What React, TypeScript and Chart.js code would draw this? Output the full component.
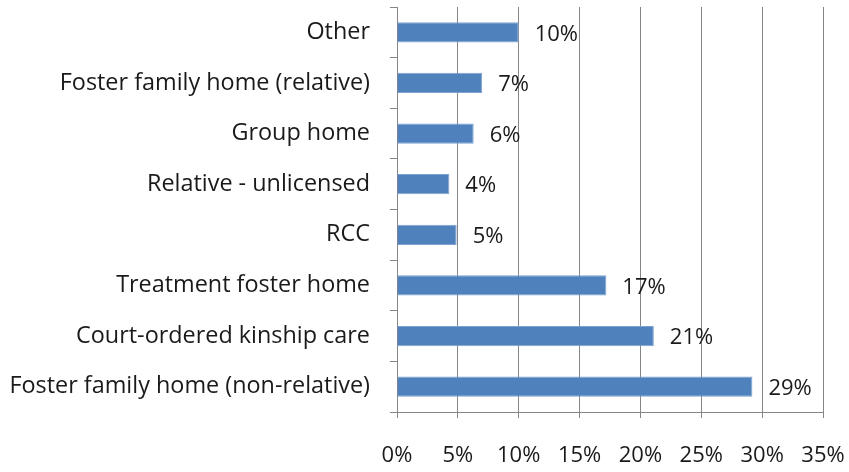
import React, { useEffect, useRef } from "react";
import { Chart, registerables } from "chart.js";

Chart.register(...registerables);

const categories = [
  "Other",
  "Foster family home (relative)",
  "Group home",
  "Relative - unlicensed",
  "RCC",
  "Treatment foster home",
  "Court-ordered kinship care",
  "Foster family home (non-relative)",
];
const shares = [10.0, 7.0, 6.3, 4.3, 4.9, 17.2, 21.1, 29.2];
const valueLabels = ["10%", "7%", "6%", "4%", "5%", "17%", "21%", "29%"];
const xTicks = [0, 5, 10, 15, 20, 25, 30, 35];

const FONT = "'Open Sans', sans-serif";
const SIZE = 22;
const CAT_SIZE = 23.4;

const valueLabelPlugin = {
  id: "valueLabels",
  afterDatasetsDraw(chart: any) {
    const ctx = chart.ctx;
    const meta = chart.getDatasetMeta(0);
    ctx.save();
    ctx.font = `${SIZE}px ${FONT}`;
    ctx.fillStyle = "#1a1a1a";
    ctx.textAlign = "left";
    ctx.textBaseline = "middle";
    meta.data.forEach((bar: any, i: number) => {
      ctx.fillText(valueLabels[i], bar.x + 16, bar.y + 2);
    });
    ctx.restore();
  },
};

export default function App() {
  const ref = useRef<HTMLCanvasElement>(null);
  useEffect(() => {
    const chart = new Chart(ref.current!, {
      type: "bar",
      data: {
        labels: categories,
        datasets: [
          {
            data: shares,
            backgroundColor: "#4F81BD",
            borderColor: "#7da2d1",
            borderWidth: 1,
            barPercentage: 0.4,
            categoryPercentage: 1,
          },
        ],
      },
      options: {
        indexAxis: "y",
        animation: false,
        responsive: false,
        maintainAspectRatio: false,
        layout: { padding: { top: 7, right: 26, left: 0, bottom: 0 } },
        plugins: { legend: { display: false }, tooltip: { enabled: false } },
        scales: {
          x: {
            min: 0,
            max: 35,
            afterBuildTicks: (scale: any) => {
              scale.ticks = xTicks.map((v) => ({ value: v }));
            },
            afterFit: (scale: any) => {
              scale.height = 60;
              scale.paddingLeft = 0;
              scale.paddingRight = 0;
            },
            border: { color: "#868686", width: 1 },
            grid: {
              color: "#868686",
              lineWidth: 1,
              drawTicks: true,
              tickLength: 6,
            },
            ticks: {
              callback: (v: any) => `${v}%`,
              font: { family: FONT, size: SIZE },
              color: "#1a1a1a",
              padding: 25,
              maxRotation: 0,
            },
          },
          y: {
            afterFit: (scale: any) => {
              scale.width = 397;
              scale.paddingTop = 0;
              scale.paddingBottom = 0;
            },
            border: { color: "#868686", width: 1 },
            grid: {
              offset: true,
              drawOnChartArea: false,
              drawTicks: true,
              tickLength: 7,
              color: "#868686",
            },
            ticks: {
              font: { family: FONT, size: CAT_SIZE },
              color: "#1a1a1a",
              padding: 20,
            },
          },
        },
      },
      plugins: [valueLabelPlugin],
    });
    return () => chart.destroy();
  }, []);
  return (
    <div style={{ position: "fixed", left: 0, top: 0, width: 849, height: 472, background: "#fff" }}>
      <canvas ref={ref} width={849} height={472} />
    </div>
  );
}
